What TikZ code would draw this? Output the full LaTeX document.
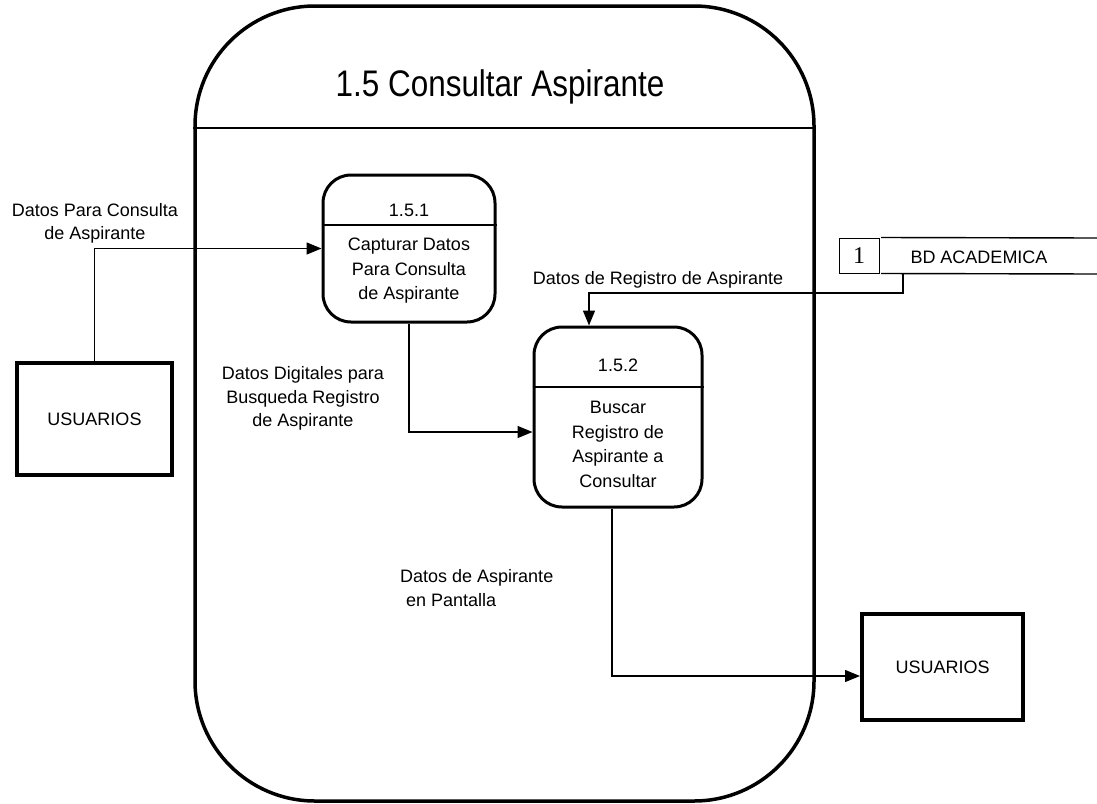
\documentclass[tikz,border=0pt]{standalone}
\usepackage{graphicx}
\usepackage{fontspec}
\setmainfont{Liberation Sans}
\newfontfamily\serifnum{Liberation Serif}
\usetikzlibrary{arrows.meta}
\begin{document}
\begin{tikzpicture}[x=1pt,y=-1pt,
  lbl/.style={font=\fontsize{18}{23.5}\selectfont, align=center, inner sep=0pt},
  ptext/.style={font=\fontsize{18}{24.5}\selectfont, align=center, inner sep=0pt},
  proc/.style={draw, line width=3pt, rounded corners=28pt, inner sep=0pt},
  ent/.style={draw, line width=4pt, inner sep=0pt, font=\fontsize{18}{22}\selectfont},
  flow/.style={line width=1.4pt, -{Triangle[length=15pt,width=12pt]}},
  sep/.style={line width=1.3pt}
]
\useasboundingbox (0,0) rectangle (1097,803);

% big process
\node[draw, line width=3.5pt, rounded corners=120pt, minimum width=619pt, minimum height=795pt, inner sep=0pt] (big) at (504.5,403.5) {};
\draw[sep] (big.west |- 0,128) -- (big.east |- 0,128);
\node[inner sep=0pt] (title) at (500,87) {\fontsize{37}{40}\selectfont\scalebox{0.85}[1]{1.5 Consultar Aspirante}};

% sub processes
\node[proc, minimum width=172pt, minimum height=147pt] (p1) at (409,248.5) {};
\draw[sep] (p1.west |- 0,225) -- (p1.east |- 0,225);
\node[ptext] (n1) at (409,210) {1.5.1};
\node[ptext] (t1) at (409,271) {Capturar Datos\\Para Consulta\\de Aspirante};

\node[proc, minimum width=168pt, minimum height=180pt] (p2) at (618,417) {};
\draw[sep] (p2.west |- 0,387) -- (p2.east |- 0,387);
\node[ptext] (n2) at (618,365) {1.5.2};
\node[ptext] (t2) at (618,444.5) {Buscar\\Registro de\\Aspirante a\\Consultar};

% external entities
\node[ent, minimum width=155pt, minimum height=112pt] (u1) at (94.5,419) {USUARIOS};
\node[ent, minimum width=161pt, minimum height=106pt] (u2) at (942.5,667) {USUARIOS};

% data store
\node[draw, line width=1pt, minimum width=40pt, minimum height=35pt, inner sep=0pt, font=\serifnum\fontsize{24}{24}\selectfont] (st) at (859,255.5) {1};
\coordinate (stt) at (1097,238);
\coordinate (stb) at (1097,274);
\draw[line width=1.4pt] ([xshift=1.5pt]st.north east) -- (stt);
\draw[line width=1.4pt] ([xshift=1.5pt]st.south east) -- (stb);
\node[lbl] (stl) at (979,257) {BD ACADEMICA};

% flows
\draw[flow] (u1.north) |- (p1.west);
\draw[flow] (p1.south) |- (p2.west |- 0,432);
\draw[flow] (903,0 |- st.south) |- (589,293) -- (589,0 |- p2.north);
\draw[flow] (612,0 |- p2.south) |- (u2.west |- 0,676);

% labels
\node[lbl] (l1) at (95,223.5) {Datos Para Consulta\\de Aspirante};
\node[lbl] (l2) at (658,280) {Datos de Registro de Aspirante};
\node[lbl] (l3) at (303,398.5) {Datos Digitales para\\Busqueda Registro\\de Aspirante};
\node[lbl, align=left, anchor=west] (l4) at (400,588) {Datos de Aspirante\\\hspace{6pt}en Pantalla};
\end{tikzpicture}
\end{document}
